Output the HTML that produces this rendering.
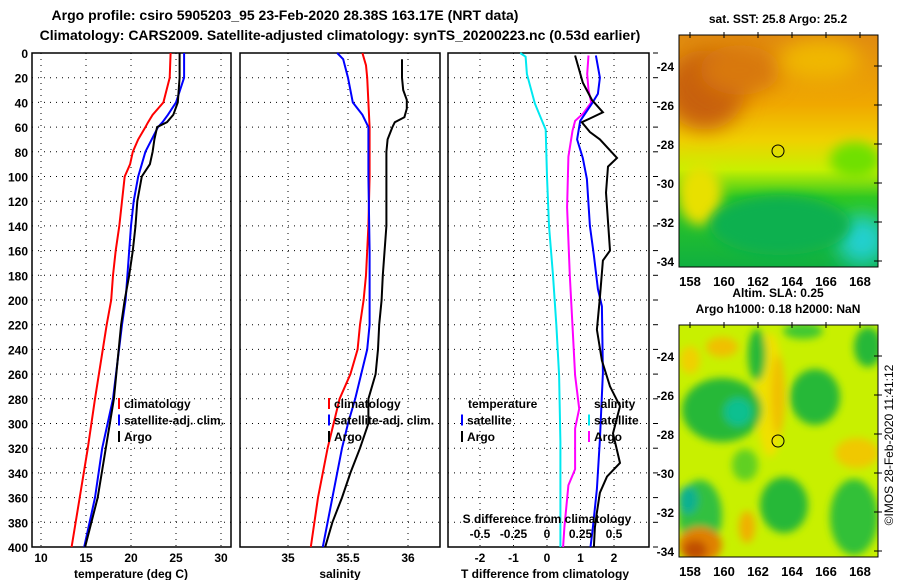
<!DOCTYPE html>
<html><head><meta charset="utf-8">
<style>
body{margin:0;background:#fff;}
svg{display:block;font-family:"Liberation Sans",sans-serif;font-weight:bold;}
</style></head>
<body>
<svg id="chart" width="900" height="580" viewBox="0 0 900 580">
<defs>
<filter id="blur4" x="-50%" y="-50%" width="200%" height="200%"><feGaussianBlur stdDeviation="4"/></filter>
<filter id="blur6" x="-50%" y="-50%" width="200%" height="200%"><feGaussianBlur stdDeviation="6"/></filter>
<filter id="blur10" x="-50%" y="-50%" width="200%" height="200%"><feGaussianBlur stdDeviation="10"/></filter>
<clipPath id="cm1"><rect x="679" y="35" width="199" height="232"/></clipPath>
<clipPath id="cm2"><rect x="679" y="325" width="199" height="232"/></clipPath>
<linearGradient id="sstg" x1="0" y1="0" x2="0" y2="1">
<stop offset="0" stop-color="#e08a10"/><stop offset="0.3" stop-color="#f0a800"/>
<stop offset="0.45" stop-color="#f0d000"/><stop offset="0.58" stop-color="#c8f000"/>
<stop offset="0.7" stop-color="#30c820"/><stop offset="1" stop-color="#10b040"/>
</linearGradient>
</defs>
<text x="285" y="20" text-anchor="middle" font-size="14">Argo profile: csiro 5905203_95 23-Feb-2020 28.38S 163.17E (NRT data)</text>
<text x="340" y="40" text-anchor="middle" font-size="14">Climatology: CARS2009. Satellite-adjusted climatology: synTS_20200223.nc (0.53d earlier)</text>
<g id="panels"></g>

<text x="778" y="23" text-anchor="middle" font-size="12">sat. SST: 25.8 Argo: 25.2</text>
<g clip-path="url(#cm1)">
<rect x="679" y="35" width="199" height="232" fill="url(#sstg)"/>
<ellipse cx="705" cy="90" rx="40" ry="40" fill="#c86008" filter="url(#blur10)"/>
<ellipse cx="740" cy="70" rx="40" ry="25" fill="#d87808" filter="url(#blur10)"/>
<ellipse cx="820" cy="60" rx="40" ry="20" fill="#f0b800" filter="url(#blur10)"/>
<ellipse cx="862" cy="240" rx="25" ry="25" fill="#20d0d0" filter="url(#blur10)"/>
<ellipse cx="700" cy="195" rx="22" ry="30" fill="#e8e000" filter="url(#blur6)"/>
<ellipse cx="855" cy="160" rx="25" ry="18" fill="#70e000" filter="url(#blur6)"/>
<ellipse cx="780" cy="225" rx="70" ry="30" fill="#10b050" filter="url(#blur6)"/>
</g>
<rect x="679" y="35" width="199" height="232" fill="none" stroke="#000"/>
<circle cx="778" cy="151" r="6" fill="none" stroke="#000"/>
<text x="778" y="297" text-anchor="middle" font-size="12">Altim. SLA: 0.25</text>
<text x="778" y="313" text-anchor="middle" font-size="12">Argo h1000: 0.18 h2000: NaN</text>
<g clip-path="url(#cm2)">
<rect x="679" y="325" width="199" height="232" fill="#c8f000"/>
<g filter="url(#blur4)">
<ellipse cx="770" cy="395" rx="14" ry="62" fill="#f0e000"/>
<ellipse cx="778" cy="395" rx="7" ry="40" fill="#f0c000"/>
<ellipse cx="722" cy="410" rx="40" ry="32" fill="#28b838"/>
<ellipse cx="738" cy="412" rx="14" ry="14" fill="#10c090"/>
<ellipse cx="757" cy="355" rx="9" ry="26" fill="#28b838"/>
<ellipse cx="815" cy="397" rx="25" ry="28" fill="#28b838"/>
<ellipse cx="868" cy="347" rx="14" ry="20" fill="#28b838"/>
<ellipse cx="803" cy="331" rx="20" ry="8" fill="#40c830"/>
<ellipse cx="854" cy="517" rx="24" ry="38" fill="#30c038"/>
<ellipse cx="784" cy="505" rx="24" ry="28" fill="#28b838"/>
<ellipse cx="700" cy="515" rx="22" ry="35" fill="#30c040"/>
<ellipse cx="688" cy="500" rx="10" ry="14" fill="#10b090"/>
<ellipse cx="745" cy="465" rx="13" ry="16" fill="#60d020"/>
<ellipse cx="722" cy="347" rx="16" ry="10" fill="#f0c000"/>
<ellipse cx="857" cy="453" rx="22" ry="15" fill="#f0c800"/>
<ellipse cx="747" cy="527" rx="8" ry="16" fill="#f0b000"/>
<ellipse cx="700" cy="545" rx="22" ry="18" fill="#e08000"/>
<ellipse cx="695" cy="550" rx="12" ry="10" fill="#c05000"/>
<ellipse cx="690" cy="360" rx="10" ry="14" fill="#f0d000"/>
</g>
</g>
<rect x="679" y="325" width="199" height="232" fill="none" stroke="#000"/>
<circle cx="778" cy="441" r="6" fill="none" stroke="#000"/>
<text x="893" y="445" text-anchor="middle" font-size="12" font-weight="normal" transform="rotate(-90 893 445)">©IMOS 28-Feb-2020 11:41:12</text>
<g id="maps-axes"></g>
</svg>
<script>
const depths=[0,20,40,50,56,60,70,80,90,100,120,140,160,180,200,220,280,320,360,400];
const tempArgo=[25.4,25.4,25.2,24.7,24.0,22.9,22.6,22.4,22.1,21.2,20.7,20.5,20.2,19.8,19.3,18.9,18.1,17.2,16.3,14.9];
const tempSat=[25.9,25.9,25.0,24.1,23.5,23.0,22.3,21.6,21.2,20.8,20.3,20.0,19.8,19.6,19.4,19.0,18.0,16.8,16.0,14.8];
const tempClim=[24.4,24.3,23.6,22.4,21.9,21.6,20.8,20.2,19.9,19.3,19.0,18.7,18.3,18.0,17.8,17.3,16.0,15.2,14.3,13.4];
const salDepths=[5,20,30,38,45,52,56,60,70,80,100,140,180,200,220,240,260,280,300,320,340,360,380,400];
const salArgo=[35.95,35.95,35.96,35.99,35.99,35.97,35.89,35.87,35.83,35.82,35.82,35.82,35.79,35.78,35.76,35.75,35.73,35.67,35.67,35.60,35.52,35.45,35.37,35.31];
const salSatDepths=[0,5,20,40,50,60,80,100,160,200,220,240,260,280,300,320,360,400];
const salSat=[35.41,35.46,35.50,35.54,35.62,35.67,35.67,35.67,35.68,35.68,35.68,35.66,35.61,35.56,35.50,35.45,35.37,35.29];
const salClimDepths=[0,10,20,40,60,100,140,160,180,200,220,240,260,280,300,320,360,400];
const salClim=[35.62,35.65,35.66,35.67,35.68,35.68,35.67,35.66,35.65,35.63,35.60,35.58,35.52,35.43,35.38,35.33,35.25,35.19];
const dTDepths=[2,24,38,48,53,56,64,70,85,92,113,160,168,198,224,249,270,286,308,332,343,356,372,384,400];
const dTArgo=[0.84,1.07,1.34,1.67,1.28,1.04,1.28,1.58,2.09,1.82,1.76,1.88,1.67,1.58,1.49,1.64,1.88,2.18,1.97,2.18,1.79,1.58,1.49,1.43,1.40];
const dTSatDepths=[2,20,33,41,55,70,85,102,140,164,191,205,259,313,353,384,400];
const dTSat=[1.46,1.58,1.52,1.34,0.99,0.90,1.07,1.19,1.28,1.40,1.52,1.64,1.67,1.58,1.49,1.37,1.30];
const dSDepths=[0,3,17,41,54,62,100,140,180,221,261,315,384,400];
const dSSat=[-0.20,-0.16,-0.15,-0.09,-0.04,-0.01,0.00,0.015,0.045,0.07,0.09,0.10,0.10,0.10];
const dSArgoDepths=[2,17,30,40,49,55,63,84,125,180,221,261,288,304,337,350,384,400];
const dSArgo=[0.31,0.30,0.31,0.33,0.27,0.21,0.19,0.16,0.15,0.17,0.19,0.21,0.24,0.21,0.21,0.16,0.13,0.12];
const depthTicks=[0,20,40,60,80,100,120,140,160,180,200,220,240,260,280,300,320,340,360,380,400];
const tempTicks=[10,15,20,25,30];
const salTicks=[35,35.5,36];
const dTTicks=[-2,-1,0,1,2];
const dSTicks=[-0.5,-0.25,0,0.25,0.5];
const dSTickLabels=['-0.5','-0.25','0','0.25','0.5'];
const latTicks=[-24,-26,-28,-30,-32,-34];
const lonTicks=[158,160,162,164,166,168];

const NS='http://www.w3.org/2000/svg';
const Y0=53,Y1=547;
const yD=d=>Y0+(Y1-Y0)*d/400;
const xT=t=>41+9*(t-10);
const xS=s=>288+120*(s-35);
const xdT=t=>547+33.5*t;
const xdS=s=>547+134*s;
const g=document.getElementById('panels');
function el(tag,attrs,parent,text){const e=document.createElementNS(NS,tag);for(const k in attrs)e.setAttribute(k,attrs[k]);if(text!==undefined)e.textContent=text;(parent||g).appendChild(e);return e;}
function panel(x0,x1,name,gx){
  const pg=el('g',{});
  
  
  depthTicks.forEach(d=>{if(d>0&&d<400){const l=el('line',{x1:x0,x2:x1,y1:yD(d),y2:yD(d),stroke:'#000','stroke-dasharray':'1,5'},pg);
    
    }});
  gx.forEach(x=>{const l=el('line',{x1:x,x2:x,y1:Y0,y2:Y1,stroke:'#000','stroke-dasharray':'1,5'},pg);
    
    });
  const r=el('rect',{x:x0,y:Y0,width:x1-x0,height:Y1-Y0,fill:'none',stroke:'#000','stroke-width':1.5},pg);
  
  
  return pg;
}
function line(ds,vs,fx,color,w,name,parent){
  const pts=ds.map((d,i)=>fx(vs[i]).toFixed(1)+','+yD(d).toFixed(1)).join(' ');
  const p=el('polyline',{points:pts,fill:'none',stroke:color,'stroke-width':w},parent);
  
  
}
function lbl(x,y,t,anchor,name,size){const e=el('text',{x:x,y:y,'text-anchor':anchor||'middle','font-size':size||12},g,t);
  
  return e;}
depthTicks.forEach(d=>{lbl(28,yD(d)+5,String(d),'end','depth-tick-label');});
const p1=panel(32,231,'temperature-panel',tempTicks.map(xT));
line(depths,tempClim,xT,'#f00',2,'climatology-temperature-line',p1);
line(depths,tempSat,xT,'#00f',2,'satellite-temperature-line',p1);
line(depths,tempArgo,xT,'#000',2,'argo-temperature-line',p1);
tempTicks.forEach(t=>lbl(xT(t),562,String(t),'middle','temperature-tick-label'));
lbl(131,578,'temperature (deg C)','middle','temperature-axis-title');
const p2=panel(240,440,'salinity-panel',salTicks.map(xS));
line(salClimDepths,salClim,xS,'#f00',2,'climatology-salinity-line',p2);
line(salSatDepths,salSat,xS,'#00f',2,'satellite-salinity-line',p2);
line(salDepths,salArgo,xS,'#000',2,'argo-salinity-line',p2);
salTicks.forEach(t=>lbl(xS(t),562,String(t),'middle','salinity-tick-label'));
lbl(340,578,'salinity','middle','salinity-axis-title');
const p3=panel(448,649,'difference-panel',dTTicks.map(xdT));
line(dSDepths,dSSat,xdS,'#00e8f0',2,'satellite-salinity-diff-line',p3);
line(dSArgoDepths,dSArgo,xdS,'#f0f',2,'argo-salinity-diff-line',p3);
line(dTSatDepths,dTSat,xdT,'#00f',2,'satellite-temperature-diff-line',p3);
line(dTDepths,dTArgo,xdT,'#000',2,'argo-temperature-diff-line',p3);
dTTicks.forEach(t=>lbl(xdT(t),562,String(t),'middle','t-diff-tick-label'));
lbl(545,578,'T difference from climatology','middle','t-diff-axis-title');
dSTicks.forEach((t,i)=>lbl(xdS(t),538,dSTickLabels[i],'middle','s-diff-tick-label'));
lbl(547,523,'S difference from climatology','middle','s-diff-axis-title');
depthTicks.forEach(d=>{const l=el('line',{x1:653,x2:658,y1:yD(d),y2:yD(d),stroke:'#000'});
  
  });
function legend(x,y,items,prefix){items.forEach((it,i)=>{
  const r=el('rect',{x:x,y:y+i*16.5-10,width:2,height:11,fill:it[1]});
  
  
  lbl(x+6,y+i*16.5,it[0],'start',prefix+'-label');});}
legend(118,408,[['climatology','#f00'],['satellite-adj. clim.','#00f'],['Argo','#000']],'legend-entry');
legend(328,408,[['climatology','#f00'],['satellite-adj. clim.','#00f'],['Argo','#000']],'legend-entry');
lbl(468,408,'temperature','start','legend-temperature-header');
legend(461,424.5,[['satellite','#00f'],['Argo','#000']],'legend-temperature');
lbl(594,408,'salinity','start','legend-salinity-header');
legend(588,424.5,[['satellite','#00e8f0'],['Argo','#f0f']],'legend-salinity');
const ma=document.getElementById('maps-axes');
[[35,0],[325,290]].forEach(([top,off],mi)=>{
  latTicks.forEach(la=>{const y=66+(-24-la)*19.5+off;
    const t=el('text',{x:674,y:y+5,'text-anchor':'end','font-size':12},ma,String(la));
    
    
    const l=el('line',{x1:874,x2:882,y1:y,y2:y,stroke:'#000'},ma);
    
    });
  lonTicks.forEach(lo=>{const x=690+(lo-158)*17;
    const l=el('line',{x1:x,x2:x,y1:top-3,y2:top+3,stroke:'#000'},ma);
    
    
    const t=el('text',{x:x,y:top+251,'text-anchor':'middle','font-size':13},ma,String(lo));
    
    });
});
</script>
</body></html>
